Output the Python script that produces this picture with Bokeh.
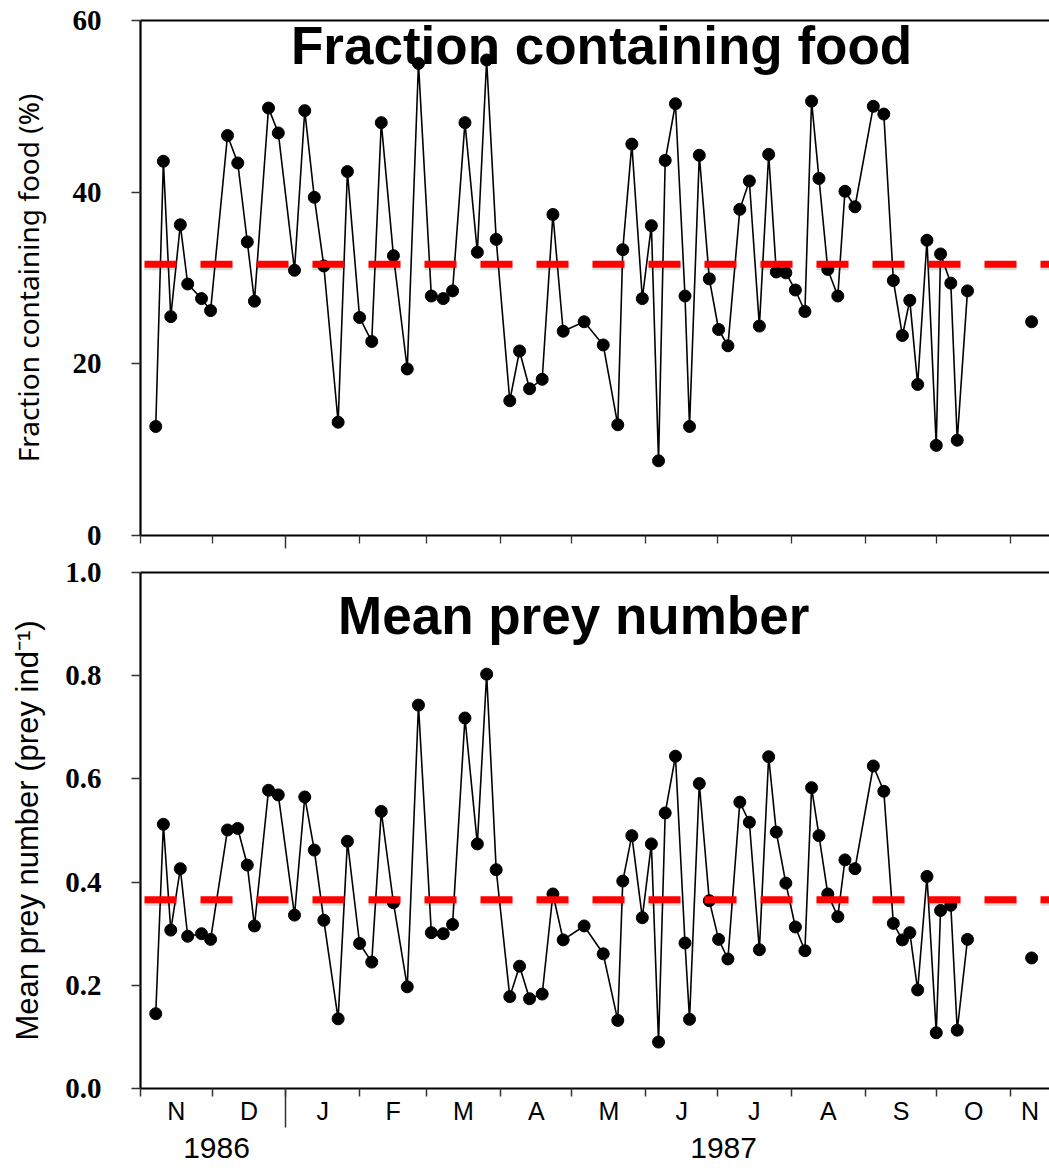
from bokeh.plotting import figure
from bokeh.models import (Range1d, FixedTicker, LinearAxis, Span, Label,
                          PrintfTickFormatter, CustomJSTickFormatter)
from bokeh.layouts import column
from bokeh.embed import file_html
from bokeh.resources import INLINE

# ---------------- data ----------------
# sampling day, counted in days since 1 Nov 1986
days = [6.4, 9.6, 12.7, 16.7, 19.8, 25.6, 29.4, 36.5, 40.8, 44.8, 47.8, 53.7, 57.8, 64.6,
        68.9, 72.9, 76.9, 82.9, 86.8, 91.9, 97.0, 101.0, 106.1, 111.9, 116.6, 122.0, 127.0,
        130.9, 136.1, 141.3, 145.2, 149.2, 154.9, 159.0, 163.2, 168.5, 173.0, 177.3, 186.1,
        194.1, 200.2, 202.3, 206.1, 210.5, 214.3, 217.3, 220.1, 224.4, 228.4, 230.3, 234.4,
        238.6, 242.5, 246.4, 251.4, 255.4, 259.6, 263.5, 266.7, 270.7, 274.7, 278.7, 281.5,
        284.6, 288.3, 292.5, 295.5, 299.7, 307.4, 311.8, 315.8, 319.6, 322.7, 326.0, 329.9,
        333.8, 335.6, 339.9, 342.6, 346.9, 373.8]
food_pct = [12.7, 43.6, 25.5, 36.2, 29.3, 27.6, 26.2, 46.6, 43.4, 34.2, 27.3, 49.8, 46.9, 30.9,
            49.5, 39.4, 31.4, 13.2, 42.4, 25.4, 22.6, 48.1, 32.6, 19.4, 55.0, 27.9, 27.6, 28.5,
            48.1, 33.0, 55.4, 34.5, 15.7, 21.5, 17.1, 18.2, 37.4, 23.8, 24.9, 22.2, 12.9, 33.3,
            45.6, 27.6, 36.1, 8.7, 43.7, 50.3, 27.9, 12.7, 44.3, 29.9, 24.0, 22.1, 38.0, 41.3,
            24.4, 44.4, 30.7, 30.6, 28.6, 26.1, 50.6, 41.6, 31.0, 27.9, 40.1, 38.3, 50.0, 49.1,
            29.7, 23.3, 27.4, 17.6, 34.4, 10.5, 32.8, 29.4, 11.1, 28.5, 24.9]
prey_num = [0.145, 0.512, 0.307, 0.426, 0.295, 0.300, 0.289, 0.501, 0.504, 0.433, 0.315, 0.578,
            0.569, 0.336, 0.565, 0.462, 0.326, 0.135, 0.479, 0.281, 0.245, 0.537, 0.360, 0.197,
            0.743, 0.302, 0.300, 0.318, 0.718, 0.474, 0.803, 0.424, 0.178, 0.237, 0.174, 0.183,
            0.377, 0.288, 0.315, 0.261, 0.132, 0.402, 0.490, 0.331, 0.474, 0.090, 0.534, 0.644,
            0.282, 0.134, 0.591, 0.364, 0.289, 0.251, 0.555, 0.516, 0.269, 0.643, 0.497, 0.398,
            0.313, 0.267, 0.583, 0.490, 0.377, 0.333, 0.443, 0.426, 0.625, 0.576, 0.320, 0.288,
            0.302, 0.191, 0.411, 0.108, 0.345, 0.355, 0.113, 0.289, 0.253]
food_mean = 31.6
prey_mean = 0.366

month_starts = [0, 30, 61, 92, 120, 151, 181, 212, 242, 273, 304, 334, 365]
year_start = 61
month_labels = ["N", "D", "J", "F", "M", "A", "M", "J", "J", "A", "S", "O", "N"]
year_labels = ["1986", "1987"]
year_label_days = [31.9, 244.6]
x_end = 381.3
food_ticks = [0, 20, 40, 60]
prey_ticks = [0.0, 0.2, 0.4, 0.6, 0.8, 1.0]

# ---------------- helpers ----------------
def broken_line(xs, ys, max_gap=15):
    bx, by = [], []
    for i, (x, y) in enumerate(zip(xs, ys)):
        if i > 0 and x - xs[i - 1] > max_gap:
            bx.append(float("nan"))
            by.append(float("nan"))
        bx.append(x)
        by.append(y)
    return bx, by

bounds = month_starts + [x_end]
month_mids = [(bounds[i] + bounds[i + 1]) / 2 for i in range(len(month_labels))]

TICK_FONT = "Liberation Serif"
SANS = "Liberation Sans"


def style_ticks(ax):
    ax.major_tick_line_color = "#333333"
    ax.minor_tick_line_color = "#333333"
    ax.major_tick_line_width = 1.3
    ax.minor_tick_line_width = 1.5


def make_panel(height, ymax, yticks, ylabel, ylabel_font, ylabel_size, ylabel_standoff,
               ys, mean, border_top, border_bottom, fmt=None):
    p = figure(width=1049, height=height, x_range=Range1d(0, x_end),
               y_range=Range1d(0, ymax), output_backend="svg", toolbar_location=None,
               min_border_left=140, min_border_right=0, min_border_top=border_top,
               min_border_bottom=border_bottom)
    p.grid.visible = False
    p.outline_line_color = None
    p.background_fill_color = "white"
    p.border_fill_color = "white"

    ya = p.left[0]
    ya.ticker = FixedTicker(ticks=yticks)
    if fmt:
        ya.formatter = PrintfTickFormatter(format=fmt)
    ya.axis_line_width = 2.2
    ya.major_tick_out = 9
    ya.major_tick_in = 0
    ya.minor_tick_out = 0
    ya.minor_tick_in = 0
    ya.major_tick_line_color = "#333333"
    ya.major_tick_line_width = 1.3
    ya.major_label_text_font = TICK_FONT
    ya.major_label_text_font_style = "bold"
    ya.major_label_text_font_size = "29px"
    ya.major_label_text_color = "black"
    ya.major_label_standoff = 30
    ya.axis_label = ylabel
    ya.axis_label_text_font = ylabel_font
    ya.axis_label_text_font_style = "normal"
    ya.axis_label_text_font_size = ylabel_size
    ya.axis_label_text_color = "black"
    ya.axis_label_standoff = ylabel_standoff

    bottom_axis = p.below[0]
    bottom_axis.axis_line_width = 2.2
    style_ticks(bottom_axis)

    top = LinearAxis(ticker=FixedTicker(ticks=[]), axis_line_width=2.2,
                     major_tick_out=0, major_tick_in=0,
                     minor_tick_out=0, minor_tick_in=0, major_label_standoff=0)
    p.add_layout(top, "above")

    bx, by = broken_line(days, ys)
    p.line(bx, by, line_color="black", line_width=1.6)
    p.scatter(days, ys, size=12, marker="circle", fill_color="black", line_color="black")

    px_per_unit = (height - border_top - border_bottom) / ymax
    shadow = Span(location=mean - 2.5 / px_per_unit, dimension="width", line_color="black",
                  line_alpha=0.15, line_width=7, line_dash="32 24", line_dash_offset=52)
    p.add_layout(shadow)
    mline = Span(location=mean, dimension="width", line_color="#FF0000", line_width=7,
                 line_dash="32 24", line_dash_offset=52)
    p.add_layout(mline)
    return p, bottom_axis


# ---------- top panel ----------
p1, xa1 = make_panel(555, 60, food_ticks, "Fraction containing food (%)", "Noto Sans", "28px",
                     23, food_pct, food_mean, 20, 20)
xa1.ticker = FixedTicker(ticks=[s for s in month_starts if s != year_start],
                         minor_ticks=[year_start])
xa1.major_tick_out = 8
xa1.major_tick_in = 0
xa1.minor_tick_out = 13
xa1.minor_tick_in = 0
xa1.major_label_text_color = None
xa1.major_label_text_font_size = "1px"
xa1.major_label_standoff = 0
p1.add_layout(Label(x=193.4, y=57.1, text="Fraction containing food", text_font=SANS,
                    text_font_size="53px", text_font_style="bold", text_color="black",
                    text_align="center", text_baseline="middle"))

# ---------- bottom panel ----------
p2, xa2 = make_panel(613, 1.0, prey_ticks, "Mean prey number (prey ind\u207b\u00b9)",
                     SANS, "31px", 17, prey_num, prey_mean, 17, 80, fmt="%.1f")
xa2.ticker = FixedTicker(ticks=month_mids, minor_ticks=month_starts)
xa2.formatter = CustomJSTickFormatter(args=dict(labs=month_labels), code="return labs[index]")
xa2.major_tick_out = 0
xa2.major_tick_in = 0
xa2.minor_tick_out = 8
xa2.minor_tick_in = 0
xa2.major_label_text_font = SANS
xa2.major_label_text_font_size = "25px"
xa2.major_label_text_color = "black"
xa2.major_label_standoff = 0

year_axis = LinearAxis(ticker=FixedTicker(ticks=year_label_days, minor_ticks=[year_start]),
                       formatter=CustomJSTickFormatter(args=dict(labs=year_labels),
                                                       code="return labs[index]"),
                       axis_line_color=None, major_tick_out=0, major_tick_in=0,
                       minor_tick_out=0, minor_tick_in=39,
                       major_label_text_font=SANS, major_label_text_font_size="30px",
                       major_label_text_color="black", major_label_standoff=10)
style_ticks(year_axis)
p2.add_layout(year_axis, "below")

p2.add_layout(Label(x=181.7, y=0.917, text="Mean prey number", text_font=SANS,
                    text_font_size="53px", text_font_style="bold", text_color="black",
                    text_align="center", text_baseline="middle"))

layout = column(p1, p2, spacing=0)
open("out.html", "w").write(file_html(layout, INLINE))
